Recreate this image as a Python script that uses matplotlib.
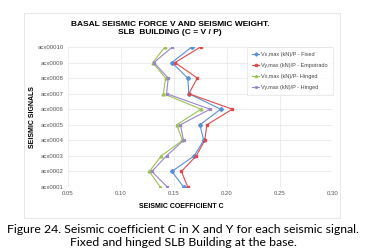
import matplotlib.pyplot as plt
from matplotlib.patches import Rectangle

signals = ["acx0001", "acx0002", "acx0003", "acx0004", "acx0005",
           "acx0006", "acx0007", "acx0008", "acx0009", "acx00010"]

vx_fixed = [0.159, 0.148, 0.169, 0.178, 0.1745, 0.194, 0.164, 0.163, 0.148, 0.1667]
vy_fixed = [0.163, 0.157, 0.171, 0.179, 0.181, 0.205, 0.164, 0.172, 0.151, 0.175]
vx_hinged = [0.137, 0.1267, 0.138, 0.158, 0.1525, 0.1755, 0.140, 0.142, 0.130, 0.1415]
vy_hinged = [0.1437, 0.129, 0.143, 0.159, 0.156, 0.184, 0.143, 0.1446, 0.131, 0.1485]

labels = ["Vx,max (kN)/P - Fixed", "Vy,max (kN)/P - Empotrado",
          "Vx,max (kN)/P- Hinged", "Vy,max (kN)/P - Hinged"]
colors = ["#5B8FD6", "#E0484A", "#9BC256", "#9A84C8"]
markers = ["D", "s", "^", "x"]

plt.rcParams["font.family"] = ["Liberation Sans", "DejaVu Sans"]

W, H = 367, 252
fig = plt.figure(figsize=(3.67, 2.52), dpi=100)
ax = fig.add_axes([68/W, 1-187/H, (333-68)/W, (187-47)/H])

y = list(range(1, len(signals) + 1))
for vals, lab, c, m in zip([vx_fixed, vy_fixed, vx_hinged, vy_hinged], labels, colors, markers):
    ax.plot(vals, y, color=c, lw=0.8, marker=m, ms=2, label=lab)

ax.set_xlim(0.05, 0.30)
ax.set_ylim(1, 10)
ax.set_xticks([0.05, 0.10, 0.15, 0.20, 0.25, 0.30])
ax.set_xticklabels(["0.05", "0.10", "0.15", "0.20", "0.25", "0.30"])
ax.set_yticks(y)
ax.set_yticklabels(signals)
ax.tick_params(labelsize=4.3, length=0, pad=3, colors="#555555")
ax.grid(True, color="#E6E6E6", lw=0.5)
ax.set_axisbelow(True)
for s in ax.spines.values():
    s.set_visible(False)

fig.text(181/W, 1-206/H, "SEISMIC COEFFICIENT C", ha="center", va="center",
         fontsize=5, fontweight="bold")
fig.text(32/W, 1-117/H, "SEISMIC SIGNALS", ha="center", va="center",
         fontsize=5, fontweight="bold", rotation=90)

leg = ax.legend(loc="upper right", fontsize=4.0, frameon=True, fancybox=False,
                edgecolor="#DDDDDD", borderpad=0.9, labelspacing=1.1,
                handlelength=1.1, handletextpad=0.5, borderaxespad=0.0,
                markerscale=0.8, bbox_to_anchor=(1.0, 1.0))
leg.get_frame().set_linewidth(0.5)
for t in leg.get_texts():
    t.set_color("#444444")

fig.text(170/W, 1-29/H, "BASAL SEISMIC FORCE V AND SEISMIC WEIGHT.\nSLB  BUILDING (C = V / P)",
         ha="center", va="center", fontsize=6, fontweight="bold", linespacing=1.2)

fig.patches.append(Rectangle((24/W, 1-218/H), (340-24)/W, (218-13)/H,
                             transform=fig.transFigure, fill=False, ec="#DDDDDD", lw=0.5))

fig.text(183/W, 1-236/H, "Figure 24. Seismic coefficient C in X and Y for each seismic signal.\nFixed and hinged SLB Building at the base.",
         ha="center", va="center", fontsize=8.8, family=["Lato", "DejaVu Sans"], linespacing=1.15)

fig.savefig("out.png", dpi=100)
